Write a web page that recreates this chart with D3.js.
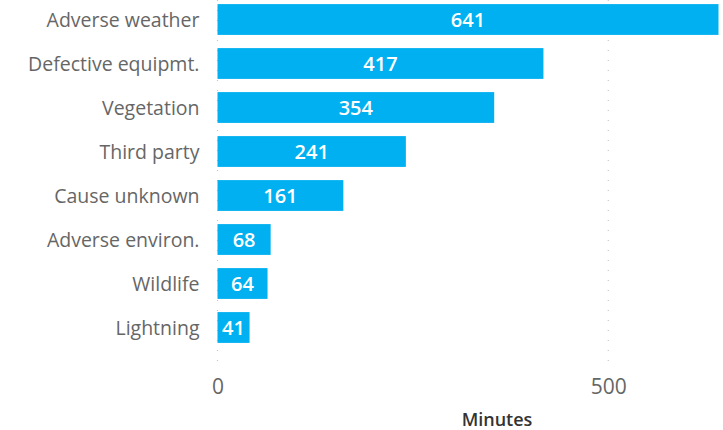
<!DOCTYPE html>
<html>
<head>
<meta charset="utf-8">
<script src="https://cdn.jsdelivr.net/npm/d3@7"></script>
<style>
  body { margin: 0; background: #fff; }
</style>
</head>
<body>
<div id="chart"></div>
<script>
// Dados
var causes = ["Adverse weather", "Defective equipmt.", "Vegetation", "Third party",
              "Cause unknown", "Adverse environ.", "Wildlife", "Lightning"];
var minutes = [641, 417, 354, 241, 161, 68, 64, 41];
var xTicks = [0, 500];

var w = 723, h = 430;
var font = "'Open Sans', 'Noto Sans', sans-serif";

var svg = d3.select("#chart").append("svg")
  .attr("width", w)
  .attr("height", h);

// Escalas
var x = d3.scaleLinear().domain([0, 500]).range([217.5, 608.3]);
var y = d3.scaleBand().domain(causes).range([-2.5, 349.5]).paddingInner(0.3).paddingOuter(0.15);

// Linhas de grade pontilhadas
svg.append("g").selectAll("line")
  .data(xTicks)
  .enter().append("line")
  .attr("x1", function(d) { return x(d); })
  .attr("x2", function(d) { return x(d); })
  .attr("y1", 0)
  .attr("y2", 366)
  .attr("stroke", "#c8c8c8")
  .attr("stroke-width", 1.2)
  .attr("stroke-dasharray", "1,9");

// Barras
svg.append("g").selectAll("rect")
  .data(minutes)
  .enter().append("rect")
  .attr("x", x(0))
  .attr("y", function(d, i) { return y(causes[i]); })
  .attr("width", function(d) { return x(d) - x(0); })
  .attr("height", y.bandwidth())
  .attr("fill", "#01b0f0");

// Valores
svg.append("g").selectAll("text")
  .data(minutes)
  .enter().append("text")
  .attr("x", function(d) { return (x(0) + x(d)) / 2; })
  .attr("y", function(d, i) { return y(causes[i]) + y.bandwidth() / 2; })
  .attr("dy", "0.38em")
  .attr("text-anchor", "middle")
  .attr("fill", "#fff")
  .attr("font-family", font)
  .attr("font-weight", 600)
  .attr("font-size", "20px")
  .text(function(d) { return d; });

// Eixo y
var yAxis = d3.axisLeft(y).tickSize(0).tickPadding(18);
var gy = svg.append("g")
  .attr("transform", "translate(" + x(0) + ",0)")
  .call(yAxis);
gy.select(".domain").remove();
gy.selectAll("text")
  .attr("dy", "0.4em")
  .attr("font-family", font)
  .attr("font-size", "19.5px")
  .attr("fill", "#666");

// Eixo x
var xAxis = d3.axisBottom(x).tickValues(xTicks).tickSize(0).tickPadding(0);
var gx = svg.append("g")
  .attr("transform", "translate(0,379)")
  .call(xAxis);
gx.select(".domain").remove();
gx.selectAll("text")
  .attr("font-family", font)
  .attr("font-size", "21px")
  .attr("fill", "#666");

// Titulo do eixo
svg.append("text")
  .attr("x", 497)
  .attr("y", 426)
  .attr("text-anchor", "middle")
  .attr("font-family", font)
  .attr("font-weight", 600)
  .attr("font-size", "18px")
  .attr("fill", "#333")
  .text("Minutes");
</script>
</body>
</html>
